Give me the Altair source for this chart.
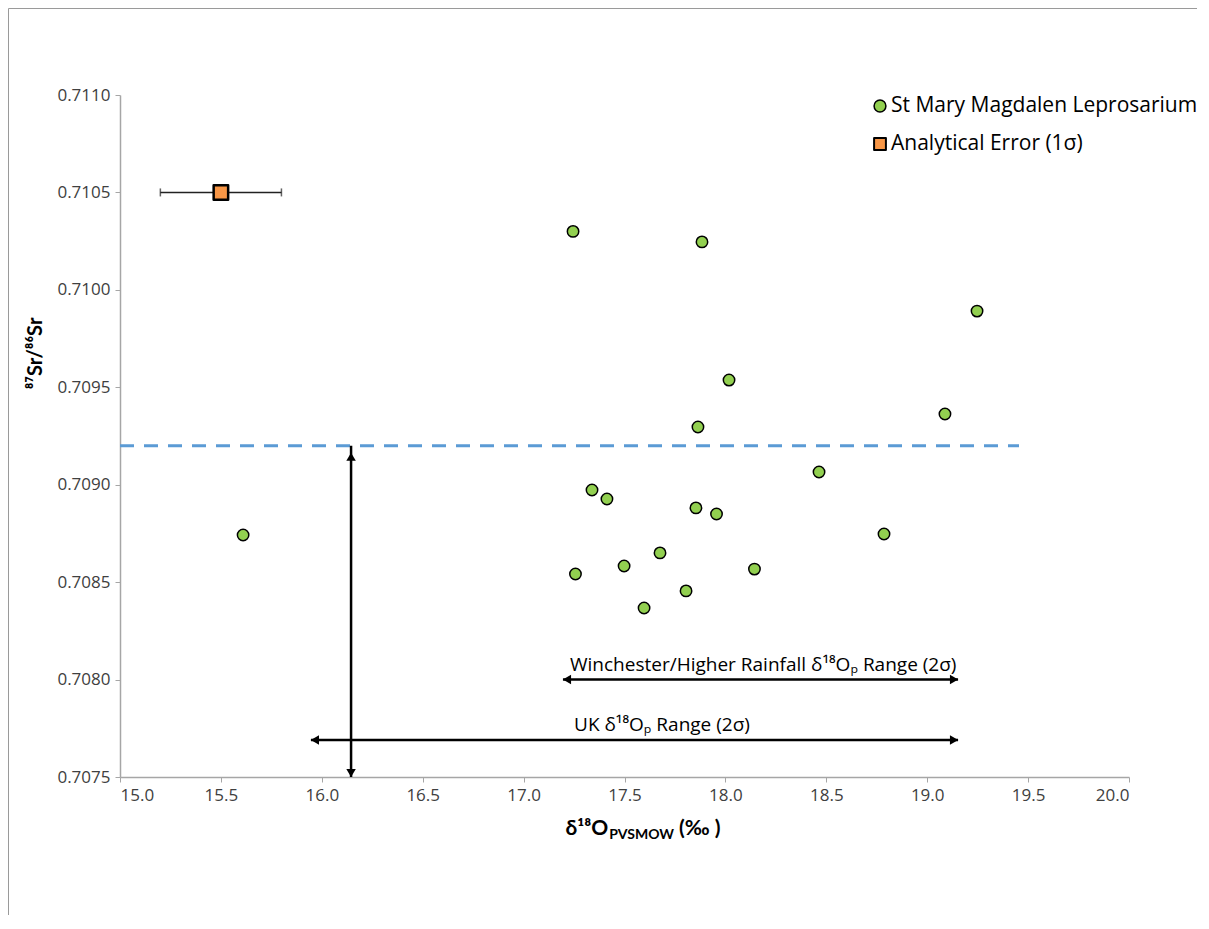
import altair as alt
import pandas as pd

# ---- data ----
d18o = [17.245, 17.884, 19.247, 18.018, 19.088, 17.864, 18.464, 17.339, 17.413,
        17.854, 17.956, 15.610, 18.786, 17.676, 17.498, 17.257, 18.144, 17.805, 17.597]
sr = [0.71030, 0.710246, 0.709891, 0.709537, 0.709363, 0.709296, 0.709065, 0.708973,
      0.708927, 0.708881, 0.708850, 0.708742, 0.708747, 0.708650, 0.708583, 0.708542,
      0.708567, 0.708455, 0.708367]

series_names = ["St Mary Magdalen Leprosarium", "Analytical Error (1σ)"]
err_x = [15.5]
err_y = [0.7105]
err_lo = [15.2]
err_hi = [15.8]

local_sr = [0.7092]
local_sr_x = [15.0, 19.455]

h_arrow_labels = ["Winchester/Higher Rainfall δ¹⁸Oₚ Range (2σ)", "UK δ¹⁸Oₚ Range (2σ)"]
h_arrow_y = [0.7080, 0.70769]
h_arrow_x0 = [17.195, 15.946]
h_arrow_x1 = [19.153, 19.153]
h_label_x = [17.23, 17.25]

v_arrow_x = [16.145]
v_arrow_y0 = [0.7075]
v_arrow_y1 = [0.7092]

x_ticks = [15.0, 15.5, 16.0, 16.5, 17.0, 17.5, 18.0, 18.5, 19.0, 19.5, 20.0]
y_ticks = [0.7075, 0.7080, 0.7085, 0.7090, 0.7095, 0.7100, 0.7105, 0.7110]

W, H = 1009, 682
PAD_R, PAD_B = 70, 140
FONT = "Open Sans"
TFONT = "Lato"
GREEN = "#92D050"
ORANGE = "#F79646"

pts = pd.DataFrame({"x": d18o, "y": sr, "series": series_names[0]})
err = pd.DataFrame({"x": err_x, "y": err_y, "lo": err_lo, "hi": err_hi, "series": series_names[1]})
dash = pd.DataFrame({"x": [local_sr_x[0]], "x2": [local_sr_x[1]], "y": local_sr})
harr = pd.DataFrame({"y": h_arrow_y, "x0": h_arrow_x0, "x1": h_arrow_x1,
                     "label": h_arrow_labels, "lx": h_label_x})
varr = pd.DataFrame({"x": v_arrow_x, "y0": v_arrow_y0, "y1": v_arrow_y1})

xscale = alt.Scale(domain=[15.0, 20.0], nice=False, zero=False)
yscale = alt.Scale(domain=[0.7075, 0.7110], nice=False, zero=False)
fscale = alt.Scale(domain=series_names, range=[GREEN, ORANGE])
sscale = alt.Scale(domain=series_names, range=["circle", "square"])

X = alt.X("x:Q", scale=xscale,
          axis=alt.Axis(values=x_ticks, format=".1f", title=None, grid=False))
Y = alt.Y("y:Q", scale=yscale,
          axis=alt.Axis(values=y_ticks, format=".4f", grid=False,
                        title="⁸⁷Sr/⁸⁶Sr", titleFontWeight="bold", titleFontSize=20,
                        titleX=-85, titleY=258, titleAngle=-90, titleAlign="center",
                        titleBaseline="middle", titleColor="black", titleFont=TFONT))

fill_enc = alt.Fill("series:N", scale=fscale, legend=None)
shape_enc = alt.Shape("series:N", scale=sscale, legend=None)

# chart frame (top and left edges visible in the reference)
frame_top = alt.Chart(pd.DataFrame({"a": [0]})).mark_rule(color="#9A9A9A", strokeWidth=1).encode(
    x=alt.value(-111.5), x2=alt.value(W + PAD_R - 2), y=alt.value(-86.5))
frame_left = alt.Chart(pd.DataFrame({"a": [0]})).mark_rule(color="#9A9A9A", strokeWidth=1).encode(
    x=alt.value(-111.5), y=alt.value(-86.5), y2=alt.value(H + PAD_B - 2))

dash_line = alt.Chart(dash).mark_rule(color="#5B9BD5", strokeWidth=3, strokeDash=[14, 10]).encode(
    x=X, x2="x2:Q", y=Y)

h_lines = alt.Chart(harr).mark_rule(color="black", strokeWidth=2.5).encode(
    x=alt.X("x0:Q", scale=xscale), x2="x1:Q", y=alt.Y("y:Q", scale=yscale))
h_heads_l = alt.Chart(harr).mark_point(shape="triangle-left", filled=True, color="black",
                                       size=90, opacity=1, xOffset=4).encode(
    x=alt.X("x0:Q", scale=xscale), y=alt.Y("y:Q", scale=yscale))
h_heads_r = alt.Chart(harr).mark_point(shape="triangle-right", filled=True, color="black",
                                       size=90, opacity=1, xOffset=-4).encode(
    x=alt.X("x1:Q", scale=xscale), y=alt.Y("y:Q", scale=yscale))
h_text = alt.Chart(harr).mark_text(align="left", baseline="middle", dy=-15, fontSize=19,
                                   font=FONT, color="black").encode(
    x=alt.X("lx:Q", scale=xscale), y=alt.Y("y:Q", scale=yscale), text="label:N")

v_line = alt.Chart(varr).mark_rule(color="black", strokeWidth=2.5).encode(
    x=alt.X("x:Q", scale=xscale), y=alt.Y("y0:Q", scale=yscale), y2="y1:Q")
v_head_d = alt.Chart(varr).mark_point(shape="triangle-down", filled=True, color="black",
                                      size=90, opacity=1, yOffset=-4).encode(
    x=alt.X("x:Q", scale=xscale), y=alt.Y("y0:Q", scale=yscale))
v_head_u = alt.Chart(varr).mark_point(shape="triangle-up", filled=True, color="black",
                                      size=90, opacity=1, yOffset=11).encode(
    x=alt.X("x:Q", scale=xscale), y=alt.Y("y1:Q", scale=yscale))

err_rule = alt.Chart(err).mark_rule(color="#222222", strokeWidth=1.5).encode(
    x=alt.X("lo:Q", scale=xscale), x2="hi:Q", y=alt.Y("y:Q", scale=yscale))
err_caps_l = alt.Chart(err).mark_tick(color="#222222", orient="vertical", size=8, thickness=1.5).encode(
    x=alt.X("lo:Q", scale=xscale), y=alt.Y("y:Q", scale=yscale))
err_caps_r = alt.Chart(err).mark_tick(color="#222222", orient="vertical", size=8, thickness=1.5).encode(
    x=alt.X("hi:Q", scale=xscale), y=alt.Y("y:Q", scale=yscale))
err_pt = alt.Chart(err).mark_point(filled=False, opacity=1, size=210, stroke="black",
                                   strokeWidth=2.5, strokeJoin="round").encode(
    x=X, y=Y, fill=fill_enc, shape=shape_enc)

points = alt.Chart(pts).mark_point(filled=False, opacity=1, size=130, stroke="black",
                                   strokeWidth=1.5).encode(
    x=X, y=Y, fill=fill_enc, shape=shape_enc)

# legend (top right), built from the series names
leg1 = pd.DataFrame({"series": [series_names[0]]})
leg2 = pd.DataFrame({"series": [series_names[1]]})
leg_sym1 = alt.Chart(leg1).mark_point(filled=False, opacity=1, size=140, stroke="black",
                                      strokeWidth=1.5).encode(
    x=alt.value(760), y=alt.value(11), fill=fill_enc, shape=shape_enc)
leg_sym2 = alt.Chart(leg2).mark_point(filled=False, opacity=1, size=140, stroke="black",
                                      strokeWidth=2, strokeJoin="round").encode(
    x=alt.value(760), y=alt.value(49), fill=fill_enc, shape=shape_enc)
leg_txt1 = alt.Chart(leg1).mark_text(align="left", baseline="middle", fontSize=21, font=FONT,
                                     color="black").encode(
    x=alt.value(771), y=alt.value(11), text="series:N")
leg_txt2 = alt.Chart(leg2).mark_text(align="left", baseline="middle", fontSize=21, font=FONT,
                                     color="black").encode(
    x=alt.value(771), y=alt.value(49), text="series:N")

# x-axis title assembled from pieces (subscript)
xt_df = pd.DataFrame({"t1": ["δ¹⁸O"], "t2": ["PVSMOW"], "t3": ["(‰ )"],
                      "a": [17.42], "b": [17.77]})
xt1 = alt.Chart(xt_df).mark_text(align="right", baseline="middle", fontSize=21, fontWeight="bold",
                                 font=TFONT, color="black").encode(
    x=alt.X("a:Q", scale=xscale), y=alt.value(H + 52), text="t1:N")
xt2 = alt.Chart(xt_df).mark_text(align="left", baseline="middle", fontSize=14, fontWeight="bold",
                                 font=TFONT, color="black", dx=1).encode(
    x=alt.X("a:Q", scale=xscale), y=alt.value(H + 58), text="t2:N")
xt3 = alt.Chart(xt_df).mark_text(align="left", baseline="middle", fontSize=21, fontWeight="bold",
                                 font=TFONT, color="black").encode(
    x=alt.X("b:Q", scale=xscale), y=alt.value(H + 52), text="t3:N")

chart = alt.layer(
    frame_top, frame_left, dash_line, h_lines, h_heads_l, h_heads_r, h_text,
    v_line, v_head_d, v_head_u, err_rule, err_caps_l, err_caps_r,
    points, err_pt, leg_sym1, leg_sym2, leg_txt1, leg_txt2, xt1, xt2, xt3
).properties(
    width=W, height=H,
    background="white",
    autosize=alt.AutoSizeParams(type="none"),
    padding={"left": 112, "top": 87, "right": PAD_R, "bottom": PAD_B},
).configure_view(stroke=None).configure_axis(
    domainColor="#A6A6A6", tickColor="#A6A6A6", tickSize=5, domainWidth=1.5,
    labelFont=FONT, labelFontSize=17, labelColor="#404040", labelPadding=5
)

chart.save("out.html", embed_options={"renderer": "svg", "actions": False})
